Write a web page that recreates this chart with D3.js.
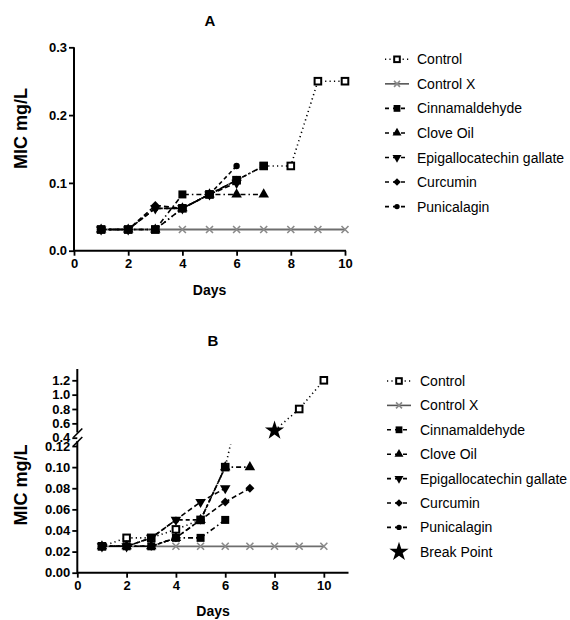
<!DOCTYPE html>
<html><head><meta charset="utf-8">
<script src="https://cdn.jsdelivr.net/npm/d3@7"></script>
<style>body{margin:0;background:#fff} svg{display:block} text{font-family:Arial,"Liberation Sans",sans-serif}</style>
</head><body><svg id="c" width="570" height="620"></svg>
<script>
// ---------- data ----------
const days = [1,2,3,4,5,6,7,8,9,10];
const seriesNames = ["Control","Control X","Cinnamaldehyde","Clove Oil","Epigallocatechin gallate","Curcumin","Punicalagin"];

// Panel A (MIC mg/L)
const aControl        = [0.03125,0.03125,0.03125,0.0625,0.083,0.104,0.125,0.125,0.25,0.25];
const aControlX       = [0.03125,0.03125,0.03125,0.03125,0.03125,0.03125,0.03125,0.03125,0.03125,0.03125];
const aCinnamaldehyde = [0.03125,0.03125,0.03125,0.083,0.083,0.104,0.125,null,null,null];
const aCloveOil       = [0.03125,0.03125,0.03125,0.0625,0.083,0.083,0.083,null,null,null];
const aEGCG           = [0.03125,0.03125,0.0625,0.0625,0.083,0.1,null,null,null,null];
const aCurcumin       = [0.03125,0.03125,0.0667,0.0625,0.083,0.104,null,null,null,null];
const aPunicalagin    = [0.03125,0.03125,0.0625,0.0625,0.083,0.125,null,null,null,null];

// Panel B (MIC mg/L)
const bControl        = [0.025,0.033,0.033,0.041,0.05,0.1,0.2,0.5,0.8,1.2];
const bControlX       = [0.025,0.025,0.025,0.025,0.025,0.025,0.025,0.025,0.025,0.025];
const bCinnamaldehyde = [0.025,0.025,0.025,0.033,0.033,0.05,null,null,null,null];
const bCloveOil       = [0.025,0.025,0.025,0.033,0.05,0.1,0.1,null,null,null];
const bEGCG           = [0.025,0.025,0.033,0.05,0.067,0.08,null,null,null,null];
const bCurcumin       = [0.025,0.025,0.025,0.033,0.05,0.067,0.08,null,null,null];
const bPunicalagin    = [0.025,0.025,0.033,0.05,0.05,0.1,null,null,null,null];
const breakDays   = [8];
const breakValues = [0.5];

// ticks
const aXTicks = [0,2,4,6,8,10];
const aYTicks = [0,0.1,0.2,0.3];
const bXTicks = [0,2,4,6,8,10];
const bLowerTicks = [0,0.02,0.04,0.06,0.08,0.10,0.12];
const bUpperTicks = [0.4,0.6,0.8,1.0,1.2];

// ---------- styles ----------
const styles = {
  "Control":                  {marker:"openSquare", dash:"1.2,3.2", color:"#000"},
  "Control X":                {marker:"x",          dash:null,      color:"#808080"},
  "Cinnamaldehyde":           {marker:"square",     dash:"5,3,1.5,3", color:"#000"},
  "Clove Oil":                {marker:"triangle",   dash:"5,3,1.5,3", color:"#000"},
  "Epigallocatechin gallate": {marker:"triDown",    dash:"5,3",     color:"#000"},
  "Curcumin":                 {marker:"diamond",    dash:"5,3",     color:"#000"},
  "Punicalagin":              {marker:"circle",     dash:"4,3",     color:"#000"},
  "Break Point":              {marker:"star",       dash:null,      color:"#000"}
};

const svg = d3.select("#c");
const FONT = "Arial, 'Liberation Sans', sans-serif";

function drawMarker(g, type, x, y, scale=1){
  if(type==="openSquare"){
    g.append("rect").attr("x",x-3.3*scale).attr("y",y-3.3*scale).attr("width",6.6*scale).attr("height",6.6*scale)
      .attr("fill","#fff").attr("stroke","#000").attr("stroke-width",2);
    return;
  }
  if(type==="x"){
    const r=3.5*scale;
    g.append("path").attr("d",`M${x-r},${y-r}L${x+r},${y+r}M${x-r},${y+r}L${x+r},${y-r}`)
      .attr("stroke","#8a8a8a").attr("stroke-width",1.6).attr("fill","none");
    return;
  }
  let sym, size, rot=0;
  if(type==="square"){sym=d3.symbolSquare; size=64;}
  else if(type==="triangle"){sym=d3.symbolTriangle; size=48;}
  else if(type==="triDown"){sym=d3.symbolTriangle; size=48; rot=180;}
  else if(type==="diamond"){sym=d3.symbolSquare; size=40; rot=45;}
  else if(type==="circle"){sym=d3.symbolCircle; size=32;}
  else if(type==="star"){sym=d3.symbolStar; size=115;}
  g.append("path").attr("d",d3.symbol(sym, size*scale*scale)())
    .attr("transform",`translate(${x},${y}) rotate(${rot})`).attr("fill","#000");
}

function makeSeries(names, arrays){
  return names.map((n,i)=>({name:n, pts:days.map((d,j)=>({d, v:arrays[i][j]}))}));
}

const drawOrder = ["Control X","Control","Punicalagin","Curcumin","Epigallocatechin gallate","Clove Oil","Cinnamaldehyde"];

function styleAxis(g){
  g.selectAll(".domain").remove();
  g.selectAll(".tick line").attr("stroke","#000").attr("stroke-width",1.8);
  g.selectAll(".tick text").attr("font-family",FONT).attr("font-size",13).attr("font-weight","bold").attr("fill","#000");
}

// ---------- Panel A ----------
(function(){
  const x = d3.scaleLinear().domain([0,10]).range([74,345]);
  const y = d3.scaleLinear().domain([0,0.3]).range([250.7,47.3]);
  const series = makeSeries(seriesNames,[aControl,aControlX,aCinnamaldehyde,aCloveOil,aEGCG,aCurcumin,aPunicalagin]);
  const g = svg.append("g");

  const gx = g.append("g").attr("transform",`translate(0,${y(0)})`)
    .call(d3.axisBottom(x).tickValues(aXTicks).tickSize(5).tickPadding(3).tickFormat(d3.format("d")));
  styleAxis(gx);
  const gy = g.append("g").attr("transform",`translate(${x(0)},0)`)
    .call(d3.axisLeft(y).tickValues(aYTicks).tickSize(5).tickPadding(2).tickFormat(d3.format(".1f")));
  styleAxis(gy);
  g.append("line").attr("x1",x(0)).attr("x2",x(10)+1).attr("y1",y(0)).attr("y2",y(0)).attr("stroke","#000").attr("stroke-width",2);
  g.append("line").attr("x1",x(0)).attr("x2",x(0)).attr("y1",y(0)+1).attr("y2",y(0.3)).attr("stroke","#000").attr("stroke-width",2);

  const line = d3.line().defined(p=>p.v!=null).x(p=>x(p.d)).y(p=>y(p.v));
  drawOrder.forEach(n=>{
    const s = series.find(t=>t.name===n), st = styles[n];
    g.append("path").attr("d",line(s.pts)).attr("fill","none")
      .attr("stroke",n==="Control X"?"#6e6e6e":"#000").attr("stroke-width",n==="Control X"?1.8:1.6)
      .attr("stroke-dasharray",st.dash);
  });
  drawOrder.forEach(n=>{
    const s = series.find(t=>t.name===n), st = styles[n];
    s.pts.filter(p=>p.v!=null).forEach(p=>drawMarker(g,st.marker,x(p.d),y(p.v)));
  });

  g.append("text").attr("x",210).attr("y",26).attr("text-anchor","middle").attr("font-size",15).attr("font-weight","bold").text("A");
  g.append("text").attr("x",209.5).attr("y",295).attr("text-anchor","middle").attr("font-size",14).attr("font-weight","bold").text("Days");
  g.append("text").attr("transform","translate(27,128.5) rotate(-90)").attr("text-anchor","middle").attr("font-size",18).attr("font-weight","bold").text("MIC mg/L");

  // legend
  seriesNames.forEach((n,i)=>{
    const yy = 59.3 + i*24.55, st = styles[n];
    g.append("line").attr("x1",385).attr("x2",409).attr("y1",yy).attr("y2",yy)
      .attr("stroke",n==="Control X"?"#555":"#000").attr("stroke-width",1.6).attr("stroke-dasharray",st.dash?(n==="Control"?"1.2,3.2":"4,4"):null);
    drawMarker(g,st.marker,397,yy,0.85);
    g.append("text").attr("x",417).attr("y",yy+5).attr("font-size",14).text(n);
  });
})();

// ---------- Panel B ----------
(function(){
  const x = d3.scaleLinear().domain([0,11]).range([77.3,348.5]);
  const yLo = d3.scaleLinear().domain([0,0.12]).range([572.7,446]);
  const yUp = d3.scaleLinear().domain([0.4,1.2]).range([437.7,380.3]);
  const series = makeSeries(seriesNames,[bControl,bControlX,bCinnamaldehyde,bCloveOil,bEGCG,bCurcumin,bPunicalagin]);
  const g = svg.append("g");
  const defs = svg.append("defs");
  defs.append("clipPath").attr("id","clipLo").append("rect").attr("x",60).attr("y",yLo(0.12)-2).attr("width",320).attr("height",200);

  const gx = g.append("g").attr("transform",`translate(0,${yLo(0)})`)
    .call(d3.axisBottom(x).tickValues(bXTicks).tickSize(5).tickPadding(3).tickFormat(d3.format("d")));
  styleAxis(gx);
  const gyLo = g.append("g").attr("transform",`translate(${x(0)},0)`)
    .call(d3.axisLeft(yLo).tickValues(bLowerTicks).tickSize(5).tickPadding(2).tickFormat(d3.format(".2f")));
  styleAxis(gyLo);
  const gyUp = g.append("g").attr("transform",`translate(${x(0)},0)`)
    .call(d3.axisLeft(yUp).tickValues(bUpperTicks).tickSize(5).tickPadding(2).tickFormat(d3.format(".1f")));
  styleAxis(gyUp);
  g.append("line").attr("x1",x(0)).attr("x2",x(11)).attr("y1",yLo(0)).attr("y2",yLo(0)).attr("stroke","#000").attr("stroke-width",2);
  g.append("line").attr("x1",x(0)).attr("x2",x(0)).attr("y1",yLo(0)+1).attr("y2",441).attr("stroke","#000").attr("stroke-width",2);
  g.append("line").attr("x1",x(0)).attr("x2",x(0)).attr("y1",432.5).attr("y2",369).attr("stroke","#000").attr("stroke-width",2);
  // break marks
  g.append("line").attr("x1",x(0)-4).attr("y1",437.5).attr("x2",x(0)+5).attr("y2",428.5).attr("stroke","#000").attr("stroke-width",1.6);
  g.append("line").attr("x1",x(0)-4).attr("y1",446).attr("x2",x(0)+5).attr("y2",437).attr("stroke","#000").attr("stroke-width",1.6);

  const lineLo = d3.line().defined(p=>p.v!=null).x(p=>x(p.d)).y(p=>yLo(p.v));
  const lineUp = d3.line().defined(p=>p.v!=null).x(p=>x(p.d)).y(p=>yUp(p.v));
  drawOrder.forEach(n=>{
    const s = series.find(t=>t.name===n), st = styles[n];
    const col = n==="Control X"?"#6e6e6e":"#000", w = n==="Control X"?1.8:1.6;
    g.append("path").attr("d",lineLo(s.pts)).attr("clip-path","url(#clipLo)").attr("fill","none")
      .attr("stroke",col).attr("stroke-width",w).attr("stroke-dasharray",st.dash);
    if(s.pts.some(p=>p.v!=null && p.v>=0.4))
      g.append("path").attr("d",lineUp(s.pts.filter(p=>p.v!=null && p.v>=0.4))).attr("fill","none")
        .attr("stroke",col).attr("stroke-width",w).attr("stroke-dasharray",st.dash);
  });
  drawOrder.forEach(n=>{
    const s = series.find(t=>t.name===n), st = styles[n];
    s.pts.filter(p=>p.v!=null).forEach(p=>{
      if(p.v<=0.12) drawMarker(g,st.marker,x(p.d),yLo(p.v));
      else if(p.v>=0.4 && !(n==="Control" && breakDays.includes(p.d))) drawMarker(g,st.marker,x(p.d),yUp(p.v));
    });
  });
  breakDays.forEach((d,i)=>drawMarker(g,"star",x(d),yUp(breakValues[i])));

  g.append("text").attr("x",213).attr("y",346).attr("text-anchor","middle").attr("font-size",15).attr("font-weight","bold").text("B");
  g.append("text").attr("x",213).attr("y",616).attr("text-anchor","middle").attr("font-size",14).attr("font-weight","bold").text("Days");
  g.append("text").attr("transform","translate(27,485) rotate(-90)").attr("text-anchor","middle").attr("font-size",18).attr("font-weight","bold").text("MIC mg/L");

  const legNames = seriesNames.concat(["Break Point"]);
  legNames.forEach((n,i)=>{
    const yy = 381 + i*24.4, st = styles[n];
    if(n!=="Break Point")
      g.append("line").attr("x1",387).attr("x2",411).attr("y1",yy).attr("y2",yy)
        .attr("stroke",n==="Control X"?"#555":"#000").attr("stroke-width",1.6).attr("stroke-dasharray",st.dash?(n==="Control"?"1.2,3.2":"4,4"):null);
    drawMarker(g,st.marker,399,yy,n==="Break Point"?1:0.85);
    g.append("text").attr("x",420).attr("y",yy+5).attr("font-size",14).text(n);
  });
})();
</script></body></html>
